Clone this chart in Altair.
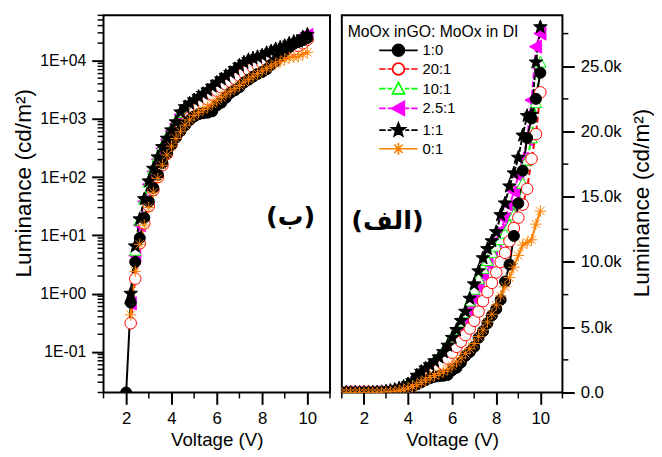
import math
import altair as alt
import pandas as pd

# ---------------- data ----------------
voltage = [1.0, 1.2, 1.4, 1.6, 1.8, 2.0, 2.2, 2.4, 2.6, 2.8,
           3.0, 3.2, 3.4, 3.6, 3.8, 4.0, 4.2, 4.4, 4.6, 4.8,
           5.0, 5.2, 5.4, 5.6, 5.8, 6.0, 6.2, 6.4, 6.6, 6.8,
           7.0, 7.2, 7.4, 7.6, 7.8, 8.0, 8.2, 8.4, 8.6, 8.8,
           9.0, 9.2, 9.4, 9.6, 9.8, 10.0]

lum_1_0 = [0, 0, 0, 0, 0, 0.02,
           0.7, 3.5, 9, 20, 38, 65, 110, 175, 260, 360,
           480, 620, 780, 950, 1100, 1200, 1250, 1280, 1350, 1700,
           1900, 2300, 2800, 3100, 3500, 4200, 4700, 5300, 5900, 6400,
           7100, 8500, 9800, 12000, 14500, 17000, 19500, 21000, 22500, 24500]
lum_20_1 = [0, 0, 0, 0, 0, 0,
            0.31, 1.8, 7.3, 16, 32, 60, 100, 160, 250, 360,
            500, 660, 850, 1050, 1300, 1550, 1800, 2150, 2600, 3050,
            3500, 3900, 4400, 4900, 5500, 6200, 7000, 7700, 8400, 9200,
            10000, 10700, 11600, 12600, 13400, 14400, 15600, 17900, 19800, 23000]
lum_10_1 = [0, 0, 0, 0, 0, 0,
            0.8, 5.5, 18, 42, 82, 140, 225, 340, 480, 660,
            900, 1280, 1580, 1850, 2100, 2400, 2750, 3150, 3650, 4200,
            4800, 5400, 6100, 7000, 7900, 8700, 9500, 10100, 10700, 11200,
            11700, 12200, 12800, 13600, 14500, 16000, 17800, 19500, 22200, 25300]
lum_2_5_1 = [0, 0, 0, 0, 0, 0,
             0.68, 4.5, 15, 38, 75, 125, 200, 310, 440, 610,
             820, 1180, 1450, 1700, 1950, 2200, 2500, 2850, 3300, 3800,
             4300, 4900, 5500, 6300, 7200, 8100, 9000, 9900, 10800, 11600,
             12400, 13300, 14300, 15400, 16600, 17900, 19400, 22400, 26500, 27500]
lum_1_1 = [0, 0, 0, 0, 0, 0,
           1.0, 6.5, 19, 42, 85, 140, 220, 330, 460, 640,
           880, 1300, 1600, 1850, 2100, 2400, 2700, 3100, 3600, 4200,
           4800, 5500, 6200, 7200, 8300, 9300, 10300, 11000, 11600, 12300,
           13600, 14500, 15800, 16800, 18000, 19700, 21200, 21300, 25300, 28000]
lum_0_1 = [0, 0, 0, 0, 0, 0,
           0.43, 2.4, 7, 15, 30, 55, 95, 160, 240, 340,
           460, 600, 780, 960, 1150, 1300, 1450, 1600, 1800, 2050,
           2350, 2650, 3000, 3350, 3750, 4300, 4800, 5400, 6000, 6700,
           7400, 8100, 8800, 9600, 10500, 11300, 11500, 11700, 12900, 13900]

series_names = ["1:0", "20:1", "10:1", "2.5:1", "1:1", "0:1"]
series_values = [lum_1_0, lum_20_1, lum_10_1, lum_2_5_1, lum_1_1, lum_0_1]
draw_order = ["2.5:1", "10:1", "20:1", "1:0", "1:1", "0:1"]

x_major = [2, 4, 6, 8, 10]
x_minor = [1, 3, 5, 7, 9, 11]
log_major = [0.1, 1, 10, 100, 1000, 10000]
log_minor = [m * 10.0 ** k for k in range(-2, 5) for m in range(2, 10)
             if 0.02 <= m * 10.0 ** k <= 60000]
lin_major = [0, 5000, 10000, 15000, 20000, 25000]
lin_minor = [2500, 7500, 12500, 17500, 22500, 27500]

ann_left = pd.DataFrame({"V": [9.26], "L": [20.4], "text": ["(ب)"]})
ann_right = pd.DataFrame({"V": [3.07], "L": [13100], "text": ["(الف)"]})

rows = []
for name, vals in zip(series_names, series_values):
    for v, l in zip(voltage, vals):
        rows.append({"V": v, "L": l, "series": name, "draw": draw_order.index(name)})
df = pd.DataFrame(rows).sort_values(["draw", "V"]).reset_index(drop=True)
df_log = df[df["L"] > 0].reset_index(drop=True)

# ---------------- styles ----------------
FONT = "Liberation Sans"
line_colors = ["#000000", "#FF0000", "#00FF00", "#FF00FF", "#000000", "#FF8000"]
fill_colors = ["#000000", "#FFFFFF", "#FFFFFF", "#FF00FF", "#000000", "transparent"]
dashes = [[1, 0], [6, 3], [6, 3], [6, 3], [5, 2], [1, 0]]
line_widths = [2, 2, 2, 2, 2, 1]


def f(v):
    return f"{v:.3f}"


def circle(r):
    return f"M{f(r)},0A{f(r)},{f(r)},0,1,1,{f(-r)},0A{f(r)},{f(r)},0,1,1,{f(r)},0Z"


def tri_up(r):
    return f"M0,{f(-r)}L{f(0.95*r)},{f(0.8*r)}L{f(-0.95*r)},{f(0.8*r)}Z"


def tri_left(r):
    return f"M{f(-r)},0L{f(0.85*r)},{f(-r)}L{f(0.85*r)},{f(r)}Z"


def star(r):
    pts = []
    for i in range(10):
        a = math.radians(-90 + 36 * i)
        rr = r if i % 2 == 0 else 0.42 * r
        pts.append((rr * math.cos(a), rr * math.sin(a)))
    return "M" + "L".join(f"{f(x)},{f(y)}" for x, y in pts) + "Z"


def aster(r):
    d = 0.72 * r
    return (f"M{f(-r)},0L{f(r)},0M0,{f(-r)}L0,{f(r)}"
            f"M{f(-d)},{f(-d)}L{f(d)},{f(d)}M{f(-d)},{f(d)}L{f(d)},{f(-d)}")


def seg(r, dashed):
    if dashed:
        return (f"M-3.9,0L-2.6,0M-2.2,0L{f(-r)},0"
                f"M{f(r)},0L2.2,0M2.6,0L3.9,0")
    return f"M-3.9,0L{f(-r)},0M{f(r)},0L3.9,0"


marker_paths = [circle(1.0), circle(1.05), tri_up(1.1), tri_left(1.2), star(1.3), aster(1.05)]
legend_paths = [
    seg(1.2, False) + circle(1.2),
    seg(1.2, True) + circle(1.2),
    seg(1.25, True) + tri_up(1.3),
    seg(1.35, True) + tri_left(1.4),
    seg(1.4, True) + star(1.45),
    seg(1.2, False) + aster(1.2),
]

stroke_scale = alt.Scale(domain=series_names, range=line_colors)
fill_scale = alt.Scale(domain=series_names, range=fill_colors)
dash_scale = alt.Scale(domain=series_names, range=dashes)
width_scale = alt.Scale(domain=series_names, range=line_widths)
shape_scale = alt.Scale(domain=series_names, range=marker_paths)
legend_shape_scale = alt.Scale(domain=series_names, range=legend_paths)

xscale = alt.Scale(domain=[1, 11], nice=False, zero=False)
yscale_log = alt.Scale(type="log", domain=[0.02, 60000], nice=False)
yscale_lin = alt.Scale(domain=[0, 28900], nice=False, zero=False)

W_L, W_R, H = 230, 224, 383

xaxis = alt.Axis(title="Voltage (V)", values=x_major, format="d", domain=False, grid=False,
                 tickSize=12, tickWidth=2, tickColor="black",
                 labelFont=FONT, labelFontSize=17, labelColor="black", labelPadding=6,
                 titleFont=FONT, titleFontSize=19, titleFontWeight="normal",
                 titleColor="black", titlePadding=5)

yaxis_log = alt.Axis(title="Luminance (cd/m²)", orient="left", values=log_major,
                     labelExpr="'1E' + (datum.value >= 1 ? '+' : '-') + format(abs(round(log(datum.value) / LN10)), '02d')",
                     domain=False, grid=False, tickSize=12, tickWidth=2, tickColor="black",
                     labelFont=FONT, labelFontSize=16, labelColor="black", labelPadding=6,
                     titleFont=FONT, titleFontSize=23, titleFontWeight="normal", titleColor="black",
                     titleAngle=270, titleBaseline="alphabetic", titleAlign="center",
                     titleX=-74, titleY=170)

yaxis_lin = alt.Axis(title="Luminance (cd/m²)", orient="right", values=lin_major,
                     labelExpr="datum.value == 0 ? '0.0' : format(datum.value / 1000, '.1f') + 'k'",
                     domain=False, grid=False, tickSize=12, tickWidth=2, tickColor="black",
                     labelFont=FONT, labelFontSize=17, labelColor="black", labelPadding=6,
                     titleFont=FONT, titleFontSize=23, titleFontWeight="normal", titleColor="black",
                     titleAngle=270, titleBaseline="alphabetic", titleAlign="center",
                     titleX=87, titleY=190)


def panel(data, yscale, yaxis, ann, width, minor_y, with_legend):
    X = alt.X("V:Q", scale=xscale, axis=xaxis)
    Y = alt.Y("L:Q", scale=yscale, axis=yaxis)
    lines = alt.Chart(data).mark_line(clip=True).encode(
        x=X, y=Y,
        stroke=alt.Stroke("series:N", scale=stroke_scale, legend=None),
        strokeDash=alt.StrokeDash("series:N", scale=dash_scale, legend=None),
        strokeWidth=alt.StrokeWidth("series:N", scale=width_scale, legend=None),
        order=alt.Order("V:Q"),
    )
    points = alt.Chart(data).mark_point(clip=True, opacity=1, size=125, strokeWidth=1).encode(
        x=X, y=Y,
        shape=alt.Shape("series:N", scale=shape_scale, legend=None),
        stroke=alt.Stroke("series:N", scale=stroke_scale, legend=None),
        fill=alt.Fill("series:N", scale=fill_scale, legend=None),
    )
    if yaxis is yaxis_log:
        ytick = alt.Chart(pd.DataFrame({"t": minor_y})).mark_rule(color="black", strokeWidth=1.5).encode(
            y=alt.Y("t:Q", scale=yscale, axis=yaxis), x=alt.value(-6), x2=alt.value(0))
    else:
        ytick = alt.Chart(pd.DataFrame({"t": minor_y})).mark_rule(color="black", strokeWidth=1.5).encode(
            y=alt.Y("t:Q", scale=yscale, axis=yaxis), x=alt.value(width), x2=alt.value(width + 6))
    xtick = alt.Chart(pd.DataFrame({"t": x_minor})).mark_rule(color="black", strokeWidth=1.5).encode(
        x=alt.X("t:Q", scale=xscale, axis=xaxis), y=alt.value(H), y2=alt.value(H + 6))
    text = alt.Chart(ann).mark_text(font="DejaVu Sans", fontSize=26, fontWeight="bold",
                                    align="center", baseline="middle", color="black").encode(
        x=X, y=Y, text="text:N")
    layers = [lines, points, ytick, xtick, text]
    if with_legend:
        leg = alt.Legend(title="MoOx inGO: MoOx in DI", orient="none", legendX=6, legendY=9,
                         padding=0, offset=0, titleFont=FONT, titleFontSize=16,
                         titleFontWeight="normal", titleColor="black", titlePadding=3,
                         titleLimit=400, labelFont=FONT, labelFontSize=15, labelColor="black",
                         symbolSize=100, symbolStrokeWidth=1.7, symbolOffset=44,
                         labelOffset=17, rowPadding=0)
        legend_layer = alt.Chart(pd.DataFrame({"series": series_names})).transform_filter(
            "datum.series == 'none'").mark_point(opacity=1, size=100, strokeWidth=1.7).encode(
            shape=alt.Shape("series:N", scale=legend_shape_scale, legend=leg),
            stroke=alt.Stroke("series:N", scale=stroke_scale, legend=leg),
            fill=alt.Fill("series:N", scale=fill_scale, legend=leg),
        )
        layers.append(legend_layer)
    ch = alt.layer(*layers).properties(width=width, height=H)
    if with_legend:
        ch = ch.resolve_scale(shape="independent", stroke="independent", fill="independent")
    return ch


left = panel(df_log, yscale_log, yaxis_log, ann_left, W_L, log_minor, False)
right = panel(df, yscale_lin, yaxis_lin, ann_right, W_R, lin_minor, True)

chart = alt.hconcat(left, right, spacing=8).resolve_scale(
    x="independent", y="independent", shape="independent",
    stroke="independent", fill="independent"
).properties(
    padding={"left": 4, "top": 2, "right": 0, "bottom": 0},
    background="white",
).configure_view(stroke="black", strokeWidth=2)

chart.save("out.html", embed_options={"renderer": "svg", "actions": False})
